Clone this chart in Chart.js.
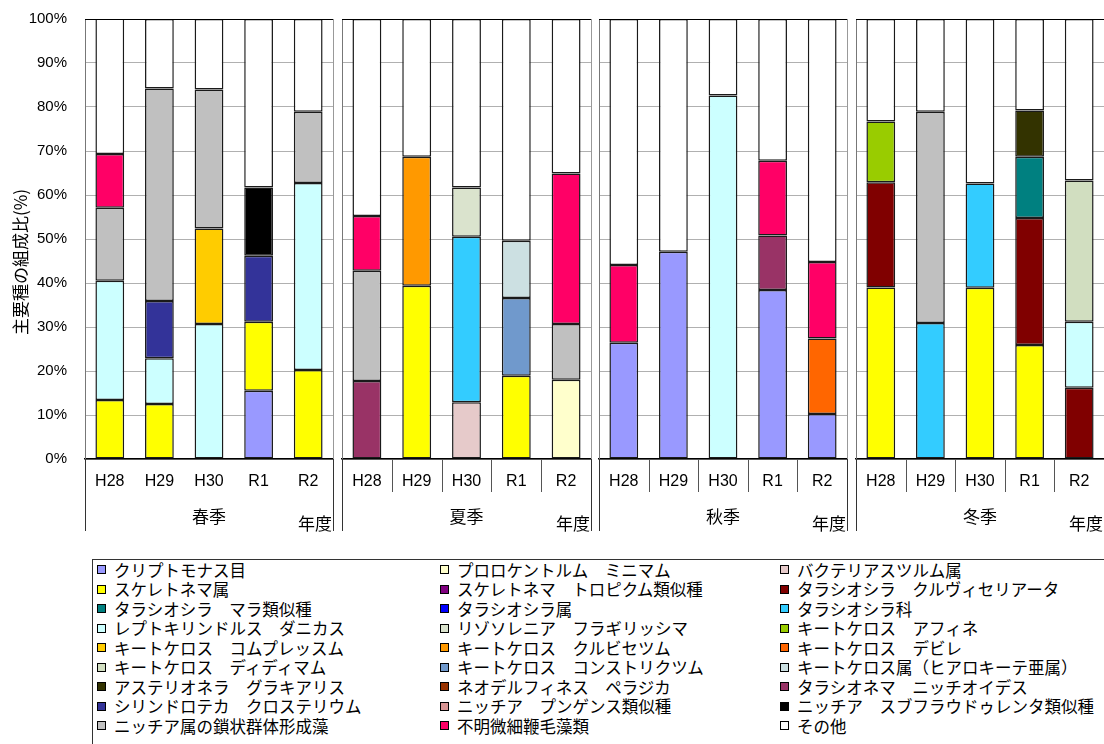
<!DOCTYPE html>
<html>
<head>
<meta charset="utf-8">
<script src="https://cdn.jsdelivr.net/npm/chart.js@4"></script>
<style>
  body { margin: 0; background: #fff; width: 1104px; height: 744px; overflow: hidden; position: relative;
         font-family: "Noto Sans CJK JP", sans-serif; }
  canvas { position: absolute; top: 0; }
  #legend { position: absolute; left: 92px; top: 559px; width: 1100px; height: 200px;
            border-left: 1px solid #333; border-top: 1px solid #333; box-sizing: border-box;
            display: grid; grid-template-columns: 343px 340px 340px; grid-auto-rows: 19.5px;
            padding-left: 4px; font-size: 16.5px; color: #000; }
  .item { display: flex; align-items: center; white-space: nowrap; }
  .box { width: 7px; height: 7px; border: 1px solid #000; margin-right: 8px; flex: none; }
</style>
</head>
<body>
<canvas id="c0" width="340" height="545" style="left:0px"></canvas>
<canvas id="c1" width="263" height="545" style="left:335px"></canvas>
<canvas id="c2" width="262" height="545" style="left:592px"></canvas>
<canvas id="c3" width="262" height="545" style="left:849px"></canvas>
<div id="legend"></div>
<script>
const years = ['H28', 'H29', 'H30', 'R1', 'R2'];
const seasons = ['春季', '夏季', '秋季', '冬季'];

const speciesNames = [
  'クリプトモナス目', 'プロロケントルム　ミニマム', 'バクテリアスツルム属',
  'スケレトネマ属', 'スケレトネマ　トロピクム類似種', 'タラシオシラ　クルヴィセリアータ',
  'タラシオシラ　マラ類似種', 'タラシオシラ属', 'タラシオシラ科',
  'レプトキリンドルス　ダニカス', 'リゾソレニア　フラギリッシマ', 'キートケロス　アフィネ',
  'キートケロス　コムプレッスム', 'キートケロス　クルビセツム', 'キートケロス　デビレ',
  'キートケロス　ディディマム', 'キートケロス　コンストリクツム', 'キートケロス属（ヒアロキーテ亜属）',
  'アステリオネラ　グラキアリス', 'ネオデルフィネス　ペラジカ', 'タラシオネマ　ニッチオイデス',
  'シリンドロテカ　クロステリウム', 'ニッチア　プンゲンス類似種', 'ニッチア　スブフラウドゥレンタ類似種',
  'ニッチア属の鎖状群体形成藻', '不明微細鞭毛藻類', 'その他'
];

const speciesColors = [
  '#9999FF', '#FFFFCC', '#E6CACA',
  '#FFFF00', '#800080', '#800000',
  '#008080', '#0000FF', '#33CCFF',
  '#CCFFFF', '#DAE3CD', '#99CC00',
  '#FFCC00', '#FF9900', '#FF6600',
  '#D1DEC0', '#7099CC', '#CCE0E2',
  '#333300', '#993300', '#993366',
  '#333399', '#D99594', '#000000',
  '#C0C0C0', '#FF0066', '#FFFFFF'
];

// values in % : spring H28..R2, summer H28..R2, autumn H28..R2, winter H28..R2
const cryptomonadales   = [0, 0, 0, 15.5, 0,      0, 0, 0, 0, 0,          26.4, 47.1, 0, 38.4, 10.2,  0, 0, 0, 0, 0];
const prorocentrum      = [0, 0, 0, 0, 0,         0, 0, 0, 0, 18.0,       0, 0, 0, 0, 0,              0, 0, 0, 0, 0];
const bacteriastrum     = [0, 0, 0, 0, 0,         0, 0, 12.9, 0, 0,       0, 0, 0, 0, 0,              0, 0, 0, 0, 0];
const skeletonema       = [13.4, 12.5, 0, 15.7, 20.2, 0, 39.4, 0, 18.9, 0, 0, 0, 0, 0, 0,             39.0, 0, 38.9, 25.9, 0];
const skelTropicum      = [0, 0, 0, 0, 0,         0, 0, 0, 0, 0,          0, 0, 0, 0, 0,              0, 0, 0, 0, 0];
const thalCurviseriata  = [0, 0, 0, 0, 0,         0, 0, 0, 0, 0,          0, 0, 0, 0, 0,              23.9, 0, 0, 28.9, 16.2];
const thalMala          = [0, 0, 0, 0, 0,         0, 0, 0, 0, 0,          0, 0, 0, 0, 0,              0, 0, 0, 13.9, 0];
const thalassiosira     = [0, 0, 0, 0, 0,         0, 0, 0, 0, 0,          0, 0, 0, 0, 0,              0, 0, 0, 0, 0];
const thalassiosiraceae = [0, 0, 0, 0, 0,         0, 0, 37.6, 0, 0,       0, 0, 0, 0, 0,              0, 30.9, 23.7, 0, 0];
const leptocylindrus    = [27.1, 10.4, 30.7, 0, 42.5, 0, 0, 0, 0, 0,      0, 0, 82.6, 0, 0,           0, 0, 0, 0, 15.0];
const rhizosolenia      = [0, 0, 0, 0, 0,         0, 0, 11.2, 0, 0,       0, 0, 0, 0, 0,              0, 0, 0, 0, 0];
const chaetAffinis      = [0, 0, 0, 0, 0,         0, 0, 0, 0, 0,          0, 0, 0, 0, 0,              13.8, 0, 0, 0, 0];
const chaetCompressum   = [0, 0, 21.7, 0, 0,      0, 0, 0, 0, 0,          0, 0, 0, 0, 0,              0, 0, 0, 0, 0];
const chaetCurvisetum   = [0, 0, 0, 0, 0,         0, 29.3, 0, 0, 0,       0, 0, 0, 0, 0,              0, 0, 0, 0, 0];
const chaetDebilis      = [0, 0, 0, 0, 0,         0, 0, 0, 0, 0,          0, 0, 0, 0, 17.2,           0, 0, 0, 0, 0];
const chaetDidymum      = [0, 0, 0, 0, 0,         0, 0, 0, 0, 0,          0, 0, 0, 0, 0,              0, 0, 0, 0, 32.1];
const chaetConstrictum  = [0, 0, 0, 0, 0,         0, 0, 0, 17.7, 0,       0, 0, 0, 0, 0,              0, 0, 0, 0, 0];
const chaetHyalochaete  = [0, 0, 0, 0, 0,         0, 0, 0, 13.0, 0,       0, 0, 0, 0, 0,              0, 0, 0, 0, 0];
const asterionella      = [0, 0, 0, 0, 0,         0, 0, 0, 0, 0,          0, 0, 0, 0, 0,              0, 0, 0, 10.5, 0];
const neodelphineis     = [0, 0, 0, 0, 0,         0, 0, 0, 0, 0,          0, 0, 0, 0, 0,              0, 0, 0, 0, 0];
const thalassionema     = [0, 0, 0, 0, 0,         17.7, 0, 0, 0, 0,       0, 0, 0, 12.4, 0,           0, 0, 0, 0, 0];
const cylindrotheca     = [0, 13.0, 0, 15.0, 0,   0, 0, 0, 0, 0,          0, 0, 0, 0, 0,              0, 0, 0, 0, 0];
const pungens           = [0, 0, 0, 0, 0,         0, 0, 0, 0, 0,          0, 0, 0, 0, 0,              0, 0, 0, 0, 0];
const subfraudulenta    = [0, 0, 0, 15.5, 0,      0, 0, 0, 0, 0,          0, 0, 0, 0, 0,              0, 0, 0, 0, 0];
const nitzschiaChain    = [16.6, 48.3, 31.6, 0, 16.2, 25.1, 0, 0, 0, 12.7, 0, 0, 0, 0, 0,            0, 48.0, 0, 0, 0];
const unknownFlagellate = [12.2, 0, 0, 0, 0,      12.4, 0, 0, 0, 34.2,    17.7, 0, 0, 17.0, 17.4,     0, 0, 0, 0, 0];
const others            = [30.8, 15.8, 16.0, 38.3, 21.1, 44.8, 31.3, 38.3, 50.4, 35.1, 55.9, 52.9, 17.4, 32.2, 55.2, 23.3, 21.1, 37.4, 20.8, 36.7];

const speciesData = [
  cryptomonadales, prorocentrum, bacteriastrum, skeletonema, skelTropicum, thalCurviseriata,
  thalMala, thalassiosira, thalassiosiraceae, leptocylindrus, rhizosolenia, chaetAffinis,
  chaetCompressum, chaetCurvisetum, chaetDebilis, chaetDidymum, chaetConstrictum, chaetHyalochaete,
  asterionella, neodelphineis, thalassionema, cylindrotheca, pungens, subfraudulenta,
  nitzschiaChain, unknownFlagellate, others
];

const jpFont = '"Noto Sans CJK JP", sans-serif';
const numFont = '"Liberation Sans", Arial, sans-serif';

function line(ctx, x1, y1, x2, y2) {
  ctx.beginPath();
  ctx.moveTo(x1, y1);
  ctx.lineTo(x2, y2);
  ctx.stroke();
}

// panel frame lines, category separators and group labels
const decor = {
  id: 'decor',
  afterDraw(chart, args, opts) {
    const ctx = chart.ctx;
    const a = chart.chartArea;
    const x = chart.scales.x;
    ctx.save();
    ctx.lineWidth = 1;
    ctx.strokeStyle = '#999';
    line(ctx, Math.round(a.right) + 0.5, a.top, Math.round(a.right) + 0.5, a.bottom);
    ctx.strokeStyle = '#333';
    line(ctx, Math.round(a.left) + 0.5, a.bottom, Math.round(a.left) + 0.5, 531);
    line(ctx, Math.round(a.right) + 0.5, a.bottom, Math.round(a.right) + 0.5, 531);
    ctx.strokeStyle = '#000';
    line(ctx, a.left, a.top + 0.5, a.right, a.top + 0.5);
    if (opts.innerTicks) {
      ctx.strokeStyle = '#555';
      for (let i = 1; i < years.length; i++) {
        const px = Math.round((x.getPixelForValue(i - 1) + x.getPixelForValue(i)) / 2) + 0.5;
        line(ctx, px, a.bottom, px, 492);
      }
    }
    ctx.fillStyle = '#000';
    ctx.font = '17px ' + jpFont;
    ctx.textBaseline = 'middle';
    ctx.textAlign = 'center';
    ctx.fillText(opts.season, (a.left + a.right) / 2, 517);
    ctx.textAlign = 'right';
    ctx.fillText('年度', a.right - 1, 524);
    if (opts.yTitle) {
      ctx.translate(21, 262);
      ctx.rotate(-Math.PI / 2);
      ctx.textAlign = 'center';
      ctx.fillText(opts.yTitle, 0, 0);
    }
    ctx.restore();
  }
};

function makeChart(id, s) {
  const first = s === 0;
  const datasets = speciesNames.map((name, i) => ({
    label: name,
    data: speciesData[i].slice(s * 5, s * 5 + 5).map(v => (v === 0 ? null : v)),
    backgroundColor: speciesColors[i],
    borderColor: '#1a1a1a',
    borderWidth: 1.5,
    borderSkipped: false,
    barPercentage: 0.58,
    categoryPercentage: 1
  }));
  return new Chart(document.getElementById(id), {
    type: 'bar',
    data: { labels: years, datasets: datasets },
    options: {
      responsive: false,
      animation: false,
      layout: { padding: { top: 19, bottom: 0, left: first ? 0 : 7, right: 7 } },
      plugins: {
        legend: { display: false },
        tooltip: { enabled: false },
        decor: { season: seasons[s], innerTicks: !first, yTitle: first ? '主要種の組成比(%)' : null }
      },
      scales: {
        x: {
          stacked: true,
          grid: { display: false, drawTicks: false },
          border: { color: '#000', width: 1.5 },
          ticks: { color: '#000', padding: 13, maxRotation: 0, font: { family: numFont, size: 16 } },
          afterFit: sc => { sc.height = 86; }
        },
        y: {
          stacked: true,
          min: 0,
          max: 100,
          // invisible tick marks keep the labels off the axis without adding top padding
          grid: {
            drawTicks: first,
            tickLength: 8,
            tickColor: 'rgba(0,0,0,0)',
            lineWidth: 1,
            color: c => (c.tick.value === 100 ? '#222' : '#b0b0b0')
          },
          border: { color: '#777', width: 1 },
          ticks: {
            display: first,
            stepSize: 10,
            padding: 10,
            color: '#000',
            font: { family: numFont, size: 15 },
            callback: v => v + '%'
          },
          afterFit: sc => { sc.width = first ? 85 : 0; }
        }
      }
    },
    plugins: [decor]
  });
}

seasons.forEach((name, s) => makeChart('c' + s, s));

// legend, 3 columns, same order as the stack
const legend = document.getElementById('legend');
speciesNames.forEach((name, i) => {
  const item = document.createElement('div');
  item.className = 'item';
  const box = document.createElement('span');
  box.className = 'box';
  box.style.background = speciesColors[i];
  item.appendChild(box);
  item.appendChild(document.createTextNode(name));
  legend.appendChild(item);
});
</script>
</body>
</html>
